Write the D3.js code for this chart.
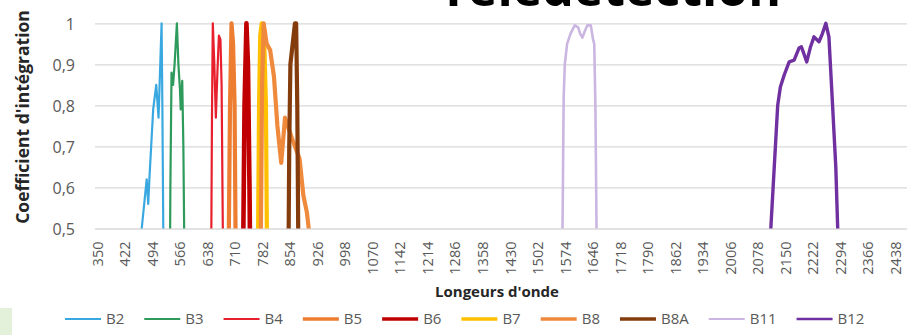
<!DOCTYPE html>
<html>
<head>
<meta charset="utf-8">
<script src="https://cdn.jsdelivr.net/npm/d3@7/dist/d3.min.js"></script>
<style>
  body { margin: 0; background: #fff; }
  svg { display: block; font-family: "Open Sans", sans-serif; }
</style>
</head>
<body>
<div id="chart"></div>
<script>
// spectral response of each band : wavelength (nm) and coefficient
var wlB2   = [465, 467, 480, 484, 487, 497, 505, 511, 519, 521, 525];
var coefB2 = [0.3, 0.5, 0.62, 0.56, 0.62, 0.79, 0.85, 0.77, 1.0, 0.8, 0.3];

var wlB3   = [540, 542, 545, 549, 553, 559, 563, 567, 569, 573, 576, 580];
var coefB3 = [0.3, 0.6, 0.88, 0.85, 0.9, 1.0, 0.9, 0.84, 0.79, 0.86, 0.7, 0.3];

var wlB4   = [648, 651, 653, 657, 661, 665, 669, 673, 676, 681];
var coefB4 = [0.3, 0.8, 1.0, 0.9, 0.77, 0.88, 0.97, 0.96, 0.85, 0.3];

var wlB5   = [693, 698, 702, 706, 710, 714];
var coefB5 = [0.3, 0.8, 1.0, 0.95, 0.8, 0.3];

var wlB6   = [731, 736, 741, 745, 749, 752];
var coefB6 = [0.3, 0.8, 1.0, 0.9, 0.6, 0.3];

var wlB7   = [770, 774, 777, 781, 787, 792, 796];
var coefB7 = [0.3, 0.8, 0.97, 1.0, 0.98, 0.8, 0.3];

var wlB8   = [777, 782, 786, 794, 803, 813, 822, 832, 842, 860, 880, 890, 899, 904, 907];
var coefB8 = [0.3, 0.85, 1.0, 0.95, 0.935, 0.87, 0.75, 0.66, 0.77, 0.72, 0.67, 0.58, 0.54, 0.5, 0.3];

var wlB8A   = [850, 853, 856, 862, 868, 871, 874, 878];
var coefB8A = [0.3, 0.7, 0.9, 0.95, 1.0, 1.0, 0.8, 0.3];

var wlB11   = [1566, 1569, 1571, 1574, 1580, 1589, 1600, 1609, 1614, 1620, 1626, 1633, 1642, 1648, 1651, 1654, 1657, 1660];
var coefB11 = [0.3, 0.6, 0.82, 0.9, 0.95, 0.975, 0.995, 0.99, 0.975, 0.965, 0.98, 0.995, 0.995, 0.96, 0.95, 0.8, 0.5, 0.3];

var wlB12   = [2111, 2113, 2131, 2138, 2148, 2161, 2174, 2187, 2193, 2207, 2217, 2226, 2239, 2248, 2257, 2265, 2274, 2283, 2288, 2291];
var coefB12 = [0.3, 0.5, 0.8, 0.845, 0.874, 0.906, 0.91, 0.94, 0.943, 0.906, 0.943, 0.967, 0.955, 0.975, 1.0, 0.967, 0.81, 0.65, 0.5, 0.3];

var bandNames = ["B2", "B3", "B4", "B5", "B6", "B7", "B8", "B8A", "B11", "B12"];

var xTickLabels = [350, 422, 494, 566, 638, 710, 782, 854, 926, 998, 1070, 1142, 1214, 1286, 1358,
                   1430, 1502, 1574, 1646, 1718, 1790, 1862, 1934, 2006, 2078, 2150, 2222, 2294, 2366, 2438];
var yTicks = [0.5, 0.6, 0.7, 0.8, 0.9, 1];
var yTickLabels = ["0,5", "0,6", "0,7", "0,8", "0,9", "1"];

// styles
var bandColors = ["#3aa8e0", "#2e9b5c", "#e8202e", "#ed7d31", "#c00000", "#ffc000", "#ef8a3c", "#843c0c", "#cbb6e2", "#7030a0"];
var bandWidths = [2.2, 2.2, 2.2, 4.2, 4.6, 4.2, 4.2, 4.2, 2.6, 3.4];

var series = [
  [wlB2, coefB2], [wlB3, coefB3], [wlB4, coefB4], [wlB5, coefB5], [wlB6, coefB6],
  [wlB7, coefB7], [wlB8, coefB8], [wlB8A, coefB8A], [wlB11, coefB11], [wlB12, coefB12]
].map(function(s, i) {
  return { name: bandNames[i], values: s[0].map(function(w, j) { return [w, s[1][j]]; }) };
});

var width = 907, height = 335;
var plotLeft = 95, plotRight = 907, plotTop = 23.3, plotBottom = 228.5;

var svg = d3.select("#chart").append("svg")
    .attr("width", width)
    .attr("height", height);

// pale green block bottom left
svg.append("rect")
    .attr("x", 0).attr("y", 308)
    .attr("width", 12).attr("height", 27)
    .attr("fill", "#e3f0da");

// title, mostly cut off at the top
svg.append("text")
    .attr("x", 610)
    .attr("y", 6)
    .attr("text-anchor", "middle")
    .style("font-size", "50px")
    .style("font-weight", "bold")
    .attr("fill", "#000")
    .text("Télédétection");

var x = d3.scaleLinear().domain([350, 2500]).range([97, 97 + 2150 * 0.3822]);
var y = d3.scaleLinear().domain([0.5, 1]).range([plotBottom, plotTop]);

// gridlines
svg.append("g")
    .attr("transform", "translate(" + plotLeft + ",0)")
    .call(d3.axisLeft(y).tickValues(yTicks).tickSize(-(plotRight - plotLeft)).tickFormat(""))
    .call(function(g) { g.select(".domain").remove(); })
    .selectAll("line")
    .attr("stroke", "#d9d9d9")
    .attr("stroke-width", 1.3);

// y axis labels
svg.append("g")
    .attr("transform", "translate(" + plotLeft + ",0)")
    .call(d3.axisLeft(y).tickValues(yTicks).tickSize(0).tickPadding(20)
      .tickFormat(function(d, i) { return yTickLabels[i]; }))
    .call(function(g) { g.select(".domain").remove(); })
    .selectAll("text")
    .attr("fill", "#595959")
    .attr("dy", "0.4em")
    .style("font-size", "16px")
    .style("font-family", "Open Sans");

// x axis labels (rotated)
var xAxis = svg.append("g")
    .attr("transform", "translate(0," + plotBottom + ")")
    .call(d3.axisBottom(x).tickValues(xTickLabels).tickSize(0).tickFormat(function(d) { return d; }));
xAxis.select(".domain").remove();
xAxis.selectAll("text")
    .attr("transform", "rotate(-90)")
    .attr("text-anchor", "end")
    .attr("x", -13)
    .attr("y", 0)
    .attr("dy", "0.36em")
    .attr("fill", "#595959")
    .style("font-size", "14.5px")
    .style("font-family", "Open Sans");

// axis titles
svg.append("text")
    .attr("transform", "translate(29,117) rotate(-90)")
    .attr("text-anchor", "middle")
    .attr("fill", "#262626")
    .style("font-size", "17.5px")
    .style("font-weight", "bold")
    .text("Coefficient d'intégration");

svg.append("text")
    .attr("x", 497)
    .attr("y", 297)
    .attr("text-anchor", "middle")
    .attr("fill", "#262626")
    .style("font-size", "15px")
    .style("font-weight", "bold")
    .text("Longeurs d'onde");

// clip the curves to the plot area
svg.append("clipPath")
    .attr("id", "plotclip")
  .append("rect")
    .attr("x", plotLeft)
    .attr("y", 0)
    .attr("width", plotRight - plotLeft)
    .attr("height", plotBottom);

var line = d3.line()
    .x(function(d) { return x(d[0]); })
    .y(function(d) { return y(d[1]); });

svg.append("g")
    .attr("clip-path", "url(#plotclip)")
  .selectAll("path")
    .data(series)
  .enter().append("path")
    .attr("d", function(d) { return line(d.values); })
    .attr("fill", "none")
    .attr("stroke", function(d, i) { return bandColors[i]; })
    .attr("stroke-width", function(d, i) { return bandWidths[i]; })
    .attr("stroke-linejoin", "round")
    .attr("stroke-linecap", "butt");

// legend
var legend = svg.append("g").attr("transform", "translate(0,319)");
var lx = 65;
bandNames.forEach(function(name, i) {
  legend.append("line")
      .attr("x1", lx).attr("x2", lx + 36)
      .attr("y1", 0).attr("y2", 0)
      .attr("stroke", bandColors[i])
      .attr("stroke-width", Math.max(1.6, bandWidths[i] * 0.8));
  var t = legend.append("text")
      .attr("x", lx + 41)
      .attr("y", 0)
      .attr("dy", "0.36em")
      .attr("fill", "#595959")
      .style("font-size", "15px")
      .text(name);
  lx = lx + 41 + t.node().getComputedTextLength() + 20;
});
</script>
</body>
</html>
